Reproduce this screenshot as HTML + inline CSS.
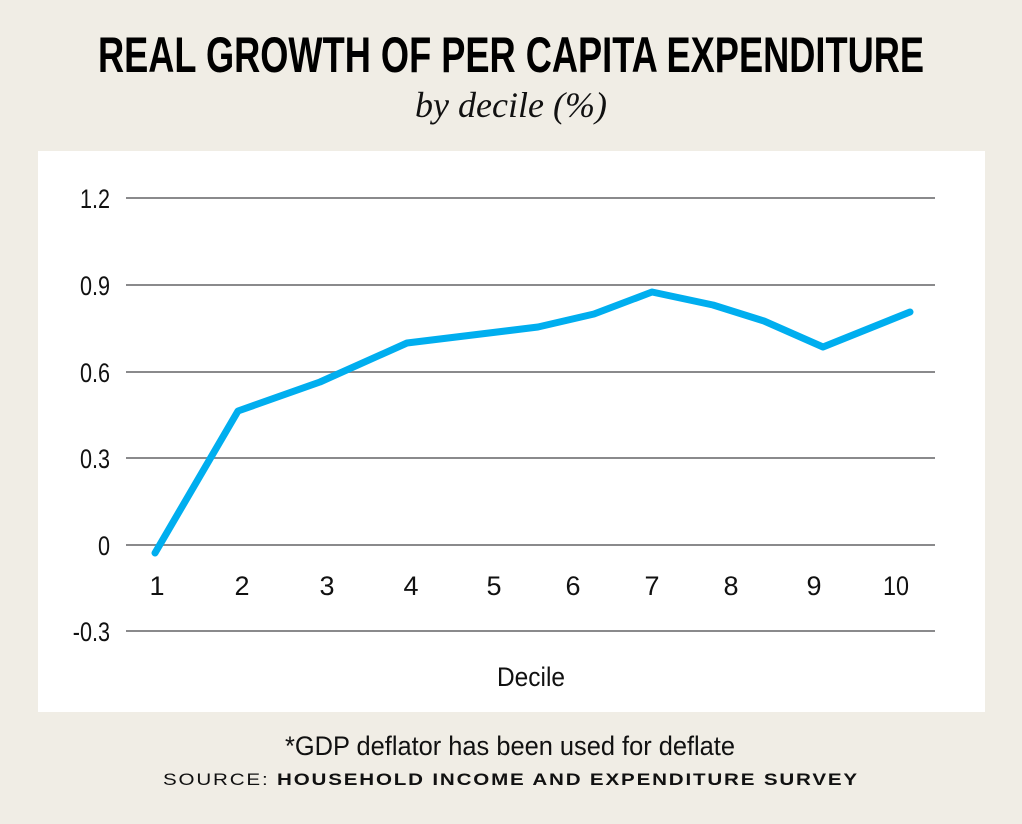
<!DOCTYPE html>
<html><head><style>
body{margin:0;background:#f0ede5;}
svg{display:block}
</style></head><body>
<svg width="1022" height="824" viewBox="0 0 1022 824" xmlns="http://www.w3.org/2000/svg">
<rect width="1022" height="824" fill="#f0ede5"/>
<text x="511" y="72" text-anchor="middle" font-family="Liberation Sans, sans-serif" font-weight="bold" font-size="50" textLength="826" lengthAdjust="spacingAndGlyphs" fill="#000">REAL GROWTH OF PER CAPITA EXPENDITURE</text>
<text x="511" y="117" text-anchor="middle" font-family="Liberation Serif, serif" font-style="italic" font-size="36" fill="#111">by decile (%)</text>
<rect x="38" y="151" width="947" height="561" fill="#fff"/>
<g stroke="#8a8a8c" stroke-width="2">
<line x1="126" y1="198" x2="935" y2="198"/>
<line x1="126" y1="285" x2="935" y2="285"/>
<line x1="126" y1="372" x2="935" y2="372"/>
<line x1="126" y1="458" x2="935" y2="458"/>
<line x1="126" y1="545" x2="935" y2="545"/>
<line x1="126" y1="631" x2="935" y2="631"/>
</g>
<g font-family="Liberation Sans, sans-serif" font-size="27" fill="#111" text-anchor="end">
<text x="110" y="208" transform="translate(110 0) scale(0.8 1) translate(-110 0)">1.2</text>
<text x="110" y="295" transform="translate(110 0) scale(0.8 1) translate(-110 0)">0.9</text>
<text x="110" y="382" transform="translate(110 0) scale(0.8 1) translate(-110 0)">0.6</text>
<text x="110" y="468" transform="translate(110 0) scale(0.8 1) translate(-110 0)">0.3</text>
<text x="110" y="555" transform="translate(110 0) scale(0.8 1) translate(-110 0)">0</text>
<text x="110" y="641" transform="translate(110 0) scale(0.8 1) translate(-110 0)">-0.3</text>
</g>
<g font-family="Liberation Sans, sans-serif" font-size="27" fill="#111" text-anchor="middle">
<text x="157" y="595">1</text><text x="242" y="595">2</text><text x="327" y="595">3</text>
<text x="411" y="595">4</text><text x="494" y="595">5</text><text x="573" y="595">6</text>
<text x="652" y="595">7</text><text x="731" y="595">8</text><text x="814" y="595">9</text>
<text x="896" y="595" textLength="26" lengthAdjust="spacingAndGlyphs">10</text>
<text x="531" y="686" textLength="68" lengthAdjust="spacingAndGlyphs">Decile</text>
</g>
<polyline fill="none" stroke="#00aeef" stroke-width="7" stroke-linejoin="round" stroke-linecap="round"
points="155,553 238,411 320,382 407,343 538,327 594,314 652,292 713,305 764,321 823,347 910,312"/>
<text x="510" y="755" text-anchor="middle" font-family="Liberation Sans, sans-serif" font-size="27" textLength="450" lengthAdjust="spacingAndGlyphs" fill="#111">*GDP deflator has been used for deflate</text>
<text x="511" y="785" text-anchor="middle" font-family="Liberation Sans, sans-serif" font-size="17" letter-spacing="1.5" fill="#111" textLength="696" lengthAdjust="spacingAndGlyphs">SOURCE: <tspan font-weight="bold">HOUSEHOLD INCOME AND EXPENDITURE SURVEY</tspan></text>
</svg>
</body></html>
